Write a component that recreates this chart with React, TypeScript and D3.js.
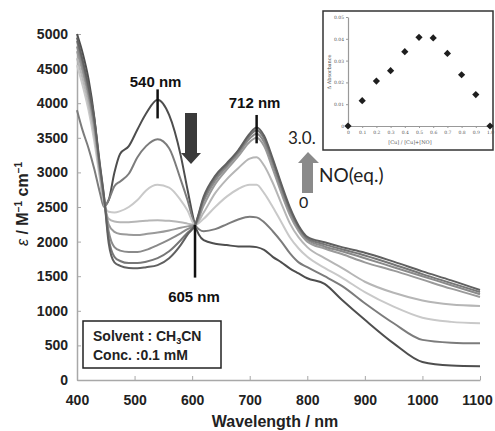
import React, { useEffect, useRef } from "react";
import * as d3 from "d3";

// wavelengths (nm) shared by all spectra
const wavelengths = [400, 410, 420, 430, 440, 447, 455, 465, 475, 490, 505, 520, 540, 560, 580, 592, 605, 620, 640, 660, 680, 700, 712, 725, 740, 755, 770, 785, 800, 830, 860, 900, 950, 1000, 1050, 1100];

// molar absorptivity, one array per titration step (0 -> 3.0 eq NO)
const eq0 = [5000, 4720, 4350, 3800, 3000, 2520, 2600, 3000, 3270, 3380, 3620, 3850, 4050, 3830, 3250, 2750, 2240, 2020, 1970, 1950, 1930, 1930, 1920, 1880, 1780, 1700, 1610, 1540, 1470, 1390, 1160, 870, 530, 260, 210, 200];
const eq1 = [3900, 3600, 3350, 3050, 2700, 2500, 2600, 2800, 2870, 2980, 3220, 3380, 3480, 3350, 2900, 2600, 2240, 2150, 2180, 2250, 2320, 2360, 2350, 2280, 2150, 2000, 1830, 1700, 1630, 1500, 1360, 1110, 820, 580, 540, 530];
const eq2 = [4550, 4250, 3900, 3450, 2900, 2550, 2430, 2420, 2440, 2500, 2600, 2740, 2820, 2780, 2600, 2450, 2240, 2330, 2500, 2650, 2760, 2820, 2820, 2700, 2500, 2280, 2060, 1900, 1780, 1620, 1480, 1270, 1060, 900, 840, 820];
const eq3 = [4650, 4350, 4000, 3550, 2950, 2560, 2330, 2290, 2280, 2280, 2290, 2300, 2310, 2300, 2280, 2260, 2240, 2420, 2700, 2900, 3060, 3200, 3220, 3100, 2850, 2550, 2260, 2060, 1920, 1760, 1620, 1420, 1260, 1150, 1090, 1070];
const eq4 = [4750, 4450, 4100, 3650, 3000, 2600, 2250, 2140, 2110, 2100, 2095, 2110, 2130, 2160, 2200, 2220, 2240, 2520, 2830, 3040, 3230, 3440, 3500, 3380, 3050, 2700, 2380, 2150, 2000, 1900, 1820, 1700, 1580, 1450, 1320, 1200];
const eq5 = [4820, 4520, 4150, 3700, 3050, 2620, 2150, 1920, 1870, 1850, 1850, 1880, 1950, 2030, 2120, 2180, 2240, 2580, 2880, 3080, 3270, 3490, 3560, 3440, 3120, 2760, 2430, 2190, 2030, 1930, 1860, 1760, 1630, 1500, 1370, 1240];
const eq6 = [4900, 4580, 4200, 3750, 3080, 2640, 2050, 1780, 1720, 1690, 1690, 1710, 1760, 1860, 2020, 2130, 2240, 2620, 2920, 3110, 3300, 3530, 3610, 3490, 3170, 2800, 2460, 2210, 2050, 1960, 1890, 1800, 1670, 1530, 1400, 1270];
const eq7 = [4950, 4620, 4250, 3780, 3100, 2650, 1980, 1700, 1650, 1620, 1615, 1630, 1660, 1760, 1950, 2100, 2240, 2650, 2950, 3130, 3320, 3560, 3650, 3530, 3200, 2830, 2490, 2230, 2070, 1990, 1920, 1840, 1710, 1570, 1440, 1300];

const spectra = [eq0, eq1, eq2, eq3, eq4, eq5, eq6, eq7];
const spectraColors = ["#4e4e4e", "#7c7c7c", "#c9c9c9", "#b6b6b6", "#9a9a9a", "#8a8a8a", "#777777", "#606060"];

const yTicks = [0, 500, 1000, 1500, 2000, 2500, 3000, 3500, 4000, 4500, 5000];
const xTicks = [400, 500, 600, 700, 800, 900, 1000, 1100];

// inset: Job plot
const jobX = [0, 0.1, 0.2, 0.3, 0.4, 0.5, 0.6, 0.7, 0.8, 0.9, 1.0];
const jobY = [0, 0.0116, 0.0206, 0.0254, 0.0341, 0.0407, 0.0404, 0.0333, 0.0235, 0.0144, 0];
const jobYTicks = [0, 0.01, 0.02, 0.03, 0.04, 0.05];

const W = 495;
const H = 431;
const bold = "Arial, 'Liberation Sans', sans-serif";

export default function App() {
  const ref = useRef<SVGSVGElement>(null);

  useEffect(() => {
    const svg = d3.select(ref.current);
    svg.selectAll("*").remove();

    const x = d3.scaleLinear().domain([400, 1100]).range([77, 480]);
    const y = d3.scaleLinear().domain([0, 5000]).range([380, 34]);

    // axes
    const gy = svg.append("g").attr("transform", "translate(77,0)")
      .call(d3.axisLeft(y).tickValues(yTicks).tickFormat(d3.format("d")).tickSizeInner(-4).tickSizeOuter(0).tickPadding(9));
    const gx = svg.append("g").attr("transform", "translate(0,380)")
      .call(d3.axisBottom(x).tickValues(xTicks).tickFormat(d3.format("d")).tickSizeInner(-4).tickSizeOuter(0).tickPadding(15));
    [gy, gx].forEach((g) => {
      g.select(".domain").attr("stroke", "#a8a8a8").attr("stroke-width", 1.5);
      g.selectAll(".tick line").attr("stroke", "#a8a8a8");
      g.selectAll("text").attr("font-family", bold).attr("font-weight", "bold")
        .attr("font-size", 14).attr("fill", "#222");
    });
    gx.selectAll<SVGTextElement, number>(".tick text").filter((d) => d === 1100).attr("dx", -3);

    // spectra
    const line = d3.line<number>()
      .x((_, i) => x(wavelengths[i]))
      .y((d) => y(d))
      .curve(d3.curveMonotoneX);
    spectra.forEach((s, i) => {
      svg.append("path").datum(s).attr("d", line)
        .attr("fill", "none").attr("stroke", spectraColors[i])
        .attr("stroke-width", 2).attr("stroke-linejoin", "round");
    });

    // peak markers
    const marks = [
      { at: 540, y1: 4200, y2: 3780, label: "540 nm", ly: 87 },
      { at: 712, y1: 3830, y2: 3420, label: "712 nm", ly: 108 },
    ];
    marks.forEach((m) => {
      svg.append("line").attr("x1", x(m.at)).attr("x2", x(m.at))
        .attr("y1", y(m.y1)).attr("y2", y(m.y2)).attr("stroke", "#111").attr("stroke-width", 2.5);
      svg.append("text").attr("x", x(m.at) - 2).attr("y", m.ly).attr("text-anchor", "middle")
        .attr("font-family", bold).attr("font-weight", "bold").attr("font-size", 15)
        .attr("fill", "#111").text(m.label);
    });
    svg.append("line").attr("x1", x(605)).attr("x2", x(605))
      .attr("y1", y(2240)).attr("y2", y(1480)).attr("stroke", "#111").attr("stroke-width", 2.5);
    svg.append("text").attr("x", x(605) - 1).attr("y", 302).attr("text-anchor", "middle")
      .attr("font-family", bold).attr("font-weight", "bold").attr("font-size", 15)
      .attr("fill", "#111").text("605 nm");

    // down arrow (540 band decreasing)
    svg.append("path")
      .attr("d", "M185,113 L197,113 L197,153 L201,153 L191,164 L181,153 L185,153 Z")
      .attr("fill", "#3a3a3a");
    // up arrow (NO eq.)
    svg.append("path")
      .attr("d", "M302,193 L313,193 L313,163 L319,163 L308,152 L298,163 L302,163 Z")
      .attr("fill", "#8a8a8a");
    const lato = "Lato, 'Open Sans', sans-serif";
    svg.append("text").attr("x", 288).attr("y", 144).attr("font-family", lato)
      .attr("font-size", 17).attr("fill", "#222").text("3.0.");
    svg.append("text").attr("x", 319).attr("y", 182).attr("font-family", lato)
      .attr("font-size", 19).attr("fill", "#222").text("NO(eq.)");
    svg.append("text").attr("x", 299).attr("y", 208).attr("font-family", lato)
      .attr("font-size", 16).attr("fill", "#222").text("0");

    // axis titles
    svg.append("text").attr("x", 275).attr("y", 427).attr("text-anchor", "middle")
      .attr("font-family", bold).attr("font-weight", "bold").attr("font-size", 16)
      .attr("fill", "#222").text("Wavelength / nm");
    const yt = svg.append("text").attr("transform", "translate(28,204) rotate(-90)")
      .attr("text-anchor", "middle").attr("font-family", bold).attr("font-weight", "bold")
      .attr("font-size", 16).attr("fill", "#222");
    yt.append("tspan").attr("font-style", "italic").attr("font-weight", "normal").text("ε");
    yt.append("tspan").text(" / M");
    yt.append("tspan").attr("font-size", 10).attr("dy", -6).text("−1");
    yt.append("tspan").attr("dy", 6).text(" cm");
    yt.append("tspan").attr("font-size", 10).attr("dy", -6).text("−1");

    // solvent box
    svg.append("rect").attr("x", 83).attr("y", 321).attr("width", 138).attr("height", 47)
      .attr("fill", "#fff").attr("stroke", "#222").attr("stroke-width", 1.5);
    const s1 = svg.append("text").attr("x", 93).attr("y", 341).attr("font-family", bold)
      .attr("font-weight", "bold").attr("font-size", 14).attr("fill", "#222");
    s1.append("tspan").text("Solvent : CH");
    s1.append("tspan").attr("font-size", 9).attr("dy", 3).text("3");
    s1.append("tspan").attr("dy", -3).text("CN");
    svg.append("text").attr("x", 93).attr("y", 360).attr("font-family", bold)
      .attr("font-weight", "bold").attr("font-size", 14).attr("fill", "#222").text("Conc. :0.1 mM");

    // inset Job plot
    svg.append("rect").attr("x", 323).attr("y", 11).attr("width", 170).attr("height", 139)
      .attr("fill", "#fff").attr("stroke", "#333").attr("stroke-width", 1.5);
    const ix = d3.scaleLinear().domain([0, 1]).range([348, 490]);
    const iy = d3.scaleLinear().domain([0, 0.05]).range([126, 17]);
    const gix = svg.append("g").attr("transform", "translate(0,126)")
      .call(d3.axisBottom(ix).tickValues(jobX).tickSize(2).tickSizeOuter(0).tickFormat(d3.format(".1f")).tickPadding(3));
    const giy = svg.append("g").attr("transform", "translate(348,0)")
      .call(d3.axisLeft(iy).tickValues(jobYTicks).tickSize(2).tickSizeOuter(0)
        .tickFormat((d) => (d === 0 ? "0" : d3.format(".2f")(d as number))).tickPadding(2));
    [gix, giy].forEach((g) => {
      g.select(".domain").attr("stroke", "#999").attr("stroke-width", 1.2);
      g.selectAll(".tick line").attr("stroke", "#999");
      g.selectAll("text").attr("font-family", "'DejaVu Serif', serif").attr("font-size", 4.5).attr("fill", "#555");
    });
    gix.select(".tick text").text("0");
    svg.append("text").attr("x", 410).attr("y", 144).attr("text-anchor", "middle")
      .attr("font-family", "'DejaVu Serif', serif").attr("font-size", 5).attr("fill", "#555")
      .text("[Cu] / [Cu]+[NO]");
    svg.append("text").attr("transform", "translate(331,72) rotate(-90)").attr("text-anchor", "middle")
      .attr("font-family", "'DejaVu Serif', serif").attr("font-size", 5).attr("fill", "#555")
      .text("Δ Absorbance");
    const sym = d3.symbol().type(d3.symbolSquare).size(26);
    jobX.forEach((v, i) => {
      svg.append("path").attr("d", sym())
        .attr("transform", `translate(${ix(v)},${iy(jobY[i])}) rotate(45)`)
        .attr("fill", "#1e1e1e");
    });
  }, []);

  return (
    <svg ref={ref} width={W} height={H}
      style={{ position: "absolute", left: 0, top: 0, background: "#fff" }} />
  );
}
